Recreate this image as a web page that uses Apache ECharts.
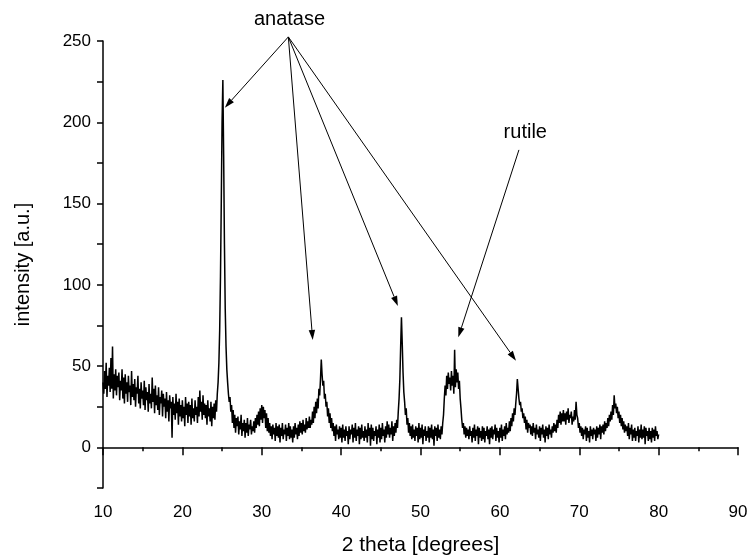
<!DOCTYPE html>
<html>
<head>
<meta charset="utf-8">
<script src="https://cdn.jsdelivr.net/npm/echarts@6/dist/echarts.min.js"></script>
<style>html,body{margin:0;padding:0;background:#fff}#c{width:747px;height:558px}</style>
</head>
<body>
<div id="c"></div>
<script>
// 2-theta scan: first angle and step (degrees)
var thetaStart = 10.0;
var thetaStep = 0.1;
// intensity values, one row per degree (10 readings per degree), 10.0 ... 80.0
var intensity = [
  40,33,47,36,52,31,44,38,49,34,
  55,36,62,30,45,35,48,32,44,37,
  46,29,41,35,48,30,43,27,45,33,
  40,28,44,34,38,26,47,31,39,29,
  42,25,37,33,44,27,36,24,40,30,
  35,26,41,23,37,29,34,22,39,27,
  33,24,43,28,36,21,38,26,32,23,
  37,20,31,27,35,19,33,25,30,18,
  34,22,29,16,32,24,28,6,31,20,
  27,17,33,21,28,14,30,19,26,16,
  29,18,25,13,31,20,27,15,28,19,
  26,14,30,18,24,16,29,20,25,15,
  31,19,35,22,28,17,32,20,27,18,
  26,14,29,19,24,16,28,13,25,18,
  27,17,29,22,33,40,52,72,105,150,
  200,226,180,125,85,62,48,40,33,28,
  31,22,26,15,23,12,20,9,18,13,
  19,8,16,11,20,7,15,10,17,6,
  15,9,18,7,14,11,17,8,13,10,
  16,9,18,12,20,14,22,13,24,17,
  26,15,25,18,23,12,21,10,18,9,
  15,7,13,5,14,8,12,4,15,7,
  13,6,14,3,12,7,15,5,11,8,
  14,4,12,7,15,5,13,6,11,3,
  13,6,15,8,12,5,14,7,16,9,
  15,8,17,10,14,9,18,11,16,12,
  19,12,17,14,22,15,25,18,28,21,
  30,24,36,32,42,54,45,38,41,30,
  33,25,28,19,24,15,21,12,18,10,
  15,7,13,4,14,8,11,5,13,6,
  12,3,14,6,11,4,13,7,10,2,
  13,5,11,8,14,3,12,6,15,4,
  11,7,13,2,12,5,14,6,10,4,
  13,6,11,3,15,7,12,1,14,5,
  12,4,10,7,13,2,11,6,14,3,
  12,5,15,7,11,3,13,6,16,8,
  14,6,12,8,16,4,13,7,15,9,
  17,12,22,30,42,62,80,64,46,34,
  28,20,24,14,18,9,15,7,13,5,
  14,6,11,4,13,7,12,3,15,5,
  12,6,14,2,11,7,13,4,10,6,
  13,3,12,6,14,5,11,1,13,7,
  12,4,14,6,11,5,13,8,15,20,
  30,38,32,44,36,46,39,43,35,47,
  38,44,33,60,37,48,40,46,36,41,
  30,24,17,12,15,8,13,6,12,7,
  11,5,13,7,10,3,12,6,14,4,
  11,7,13,2,12,6,10,4,13,5,
  12,3,10,7,13,5,11,2,12,6,
  13,5,11,8,14,4,12,6,10,3,
  12,6,14,4,11,7,13,5,15,8,
  12,9,16,10,18,13,21,16,24,20,
  27,33,42,36,30,26,28,22,24,18,
  21,15,19,11,17,9,15,12,14,8,
  13,7,15,9,12,5,14,8,11,6,
  13,4,12,8,14,6,11,3,13,7,
  12,5,14,8,11,6,13,9,15,10,
  14,9,17,12,20,15,22,14,21,16,
  23,16,21,14,22,17,24,15,20,18,
  22,14,19,16,23,17,28,20,18,12,
  15,9,13,7,12,5,11,8,13,4,
  12,6,10,3,13,7,11,5,12,8,
  11,4,13,6,12,8,14,5,13,9,
  14,8,16,10,15,12,18,13,20,16,
  22,17,26,20,32,24,27,21,25,18,
  22,15,20,13,18,11,16,9,14,10,
  13,7,15,5,12,8,14,4,11,6,
  12,4,10,7,13,3,11,6,14,5,
  11,6,13,2,12,7,10,4,12,5,
  10,3,12,6,11,4,13,7,10,5,
  8
];
// x axis ticks
var xMin = 10, xMax = 90, xInterval = 10;
// y axis ticks
var yMin = -25, yMax = 250, yInterval = 25, yLabelEvery = 50;
// annotations (data coordinates)
var anataseLabel = 'anatase', anataseLabelAt = [33.5, 263];
var anataseFrom = [33.35, 252.5];
var anataseTargets = [[25.35, 209], [36.42, 66], [47.15, 87], [62.03, 53.3]];
var rutileLabel = 'rutile', rutileLabelAt = [63.2, 194];
var rutileFrom = [62.4, 183];
var rutileTarget = [54.76, 67.7];

var seriesData = intensity.map(function (v, i) {
  return [+(thetaStart + i * thetaStep).toFixed(2), v];
});

var font = '"Liberation Sans", Arial, sans-serif';
var chart = echarts.init(document.getElementById('c'), null, { renderer: 'canvas' });
chart.setOption({
  animation: false,
  backgroundColor: '#fff',
  grid: { left: 103, right: 9, top: 41, bottom: 70, containLabel: false, outerBoundsMode: 'none' },
  xAxis: {
    type: 'value', min: xMin, max: xMax, interval: xInterval,
    name: '2 theta [degrees]', nameLocation: 'middle', nameGap: 47,
    nameTextStyle: { fontFamily: font, fontSize: 21, color: '#000' },
    axisLine: { lineStyle: { color: '#000', width: 1.5 } },
    axisTick: { inside: false, length: 8, lineStyle: { color: '#000', width: 1.5 } },
    minorTick: { show: true, splitNumber: 2, length: 4, lineStyle: { color: '#000', width: 1.5 } },
    axisLabel: { fontFamily: font, fontSize: 17, color: '#000', margin: 16 },
    splitLine: { show: false }
  },
  yAxis: {
    type: 'value', min: yMin, max: yMax, interval: yInterval,
    name: 'intensity [a.u.]', nameLocation: 'middle', nameGap: 70, nameRotate: 90,
    nameTextStyle: { fontFamily: font, fontSize: 20, color: '#000' },
    axisLine: { show: true, lineStyle: { color: '#000', width: 1.5 } },
    axisTick: { show: true, inside: false, length: 6, lineStyle: { color: '#000', width: 1.5 } },
    axisLabel: {
      fontFamily: font, fontSize: 17, color: '#000', margin: 12,
      formatter: function (v) { return v % yLabelEvery === 0 ? String(v) : ''; }
    },
    splitLine: { show: false }
  },
  series: [{
    type: 'line',
    data: seriesData,
    showSymbol: false,
    symbol: 'none',
    clip: false,
    lineStyle: { color: '#000', width: 1.5 },
    emphasis: { disabled: true }
  }]
});

function px(p) { return chart.convertToPixel({ gridIndex: 0 }, p); }
function arrow(from, to) {
  var a = px(from), b = px(to);
  var dx = b[0] - a[0], dy = b[1] - a[1];
  var len = Math.sqrt(dx * dx + dy * dy);
  var ux = dx / len, uy = dy / len;
  var hl = 10, hw = 3.2;
  var bx = b[0] - ux * hl, by = b[1] - uy * hl;
  return [
    { type: 'line', silent: true, shape: { x1: a[0], y1: a[1], x2: bx, y2: by }, style: { stroke: '#000', lineWidth: 1 } },
    { type: 'polygon', silent: true, shape: { points: [[b[0], b[1]], [bx - uy * hw, by + ux * hw], [bx + uy * hw, by - ux * hw]] }, style: { fill: '#000' } }
  ];
}
var g = [];
anataseTargets.forEach(function (t) { g = g.concat(arrow(anataseFrom, t)); });
g = g.concat(arrow(rutileFrom, rutileTarget));
var al = px(anataseLabelAt), rl = px(rutileLabelAt);
g.push({ type: 'text', silent: true, x: al[0], y: al[1], style: { text: anataseLabel, font: '20px ' + font, fill: '#000', align: 'center', verticalAlign: 'middle' } });
g.push({ type: 'text', silent: true, x: rl[0], y: rl[1], style: { text: rutileLabel, font: '20px ' + font, fill: '#000', align: 'center', verticalAlign: 'middle' } });
chart.setOption({ graphic: g });
</script>
</body>
</html>
